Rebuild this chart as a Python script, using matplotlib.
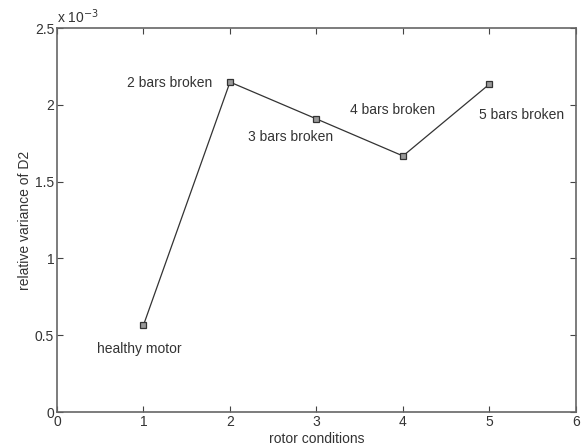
import numpy as np
import matplotlib.pyplot as plt

plt.rcParams['font.family'] = ['Liberation Sans', 'DejaVu Sans']

# rotor condition index vs relative variance of D2
conditions = np.array([1, 2, 3, 4, 5])
variance = np.array([0.566e-3, 2.148e-3, 1.908e-3, 1.667e-3, 2.135e-3])

labels = ['healthy motor', '2 bars broken', '3 bars broken', '4 bars broken', '5 bars broken']
label_x = [0.954, 1.30, 2.705, 3.879, 5.37]
label_y = [0.410e-3, 2.142e-3, 1.790e-3, 1.966e-3, 1.934e-3]

fig = plt.figure(figsize=(5.84, 4.46), dpi=100)
ax = fig.add_axes([0.0976, 0.0762, 0.8887, 0.861])

ax.plot(conditions, variance, '-', color='#333333', lw=0.9,
        marker='s', ms=4, mfc='#999999', mec='#333333', mew=0.9)

for t, x, y in zip(labels, label_x, label_y):
    ax.text(x, y, t, ha='center', va='center', fontsize=10, color='#333333',
            clip_on=False)

ax.set_xlim(0, 6)
ax.set_ylim(0, 2.5e-3)
ax.set_xticks(range(7))
ax.set_yticks(np.arange(0, 2.51e-3, 0.5e-3))
ax.set_yticklabels(['0', '0.5', '1', '1.5', '2', '2.5'])
ax.text(0.0, 1.004, r'x 10$^{-3}$', transform=ax.transAxes, fontsize=10,
        color='#333333', va='bottom', ha='left')

ax.tick_params(direction='in', top=True, right=True, length=4, width=0.8,
               labelsize=10, colors='#444444', labelcolor='#333333', pad=2)
for s in ax.spines.values():
    s.set_color('#666666')
    s.set_linewidth(1.2)

ax.set_xlabel('rotor conditions', fontsize=10, color='#333333', labelpad=2)
ax.set_ylabel('relative variance of D2', fontsize=10, color='#333333', labelpad=2)

fig.savefig('out.png', dpi=100)
